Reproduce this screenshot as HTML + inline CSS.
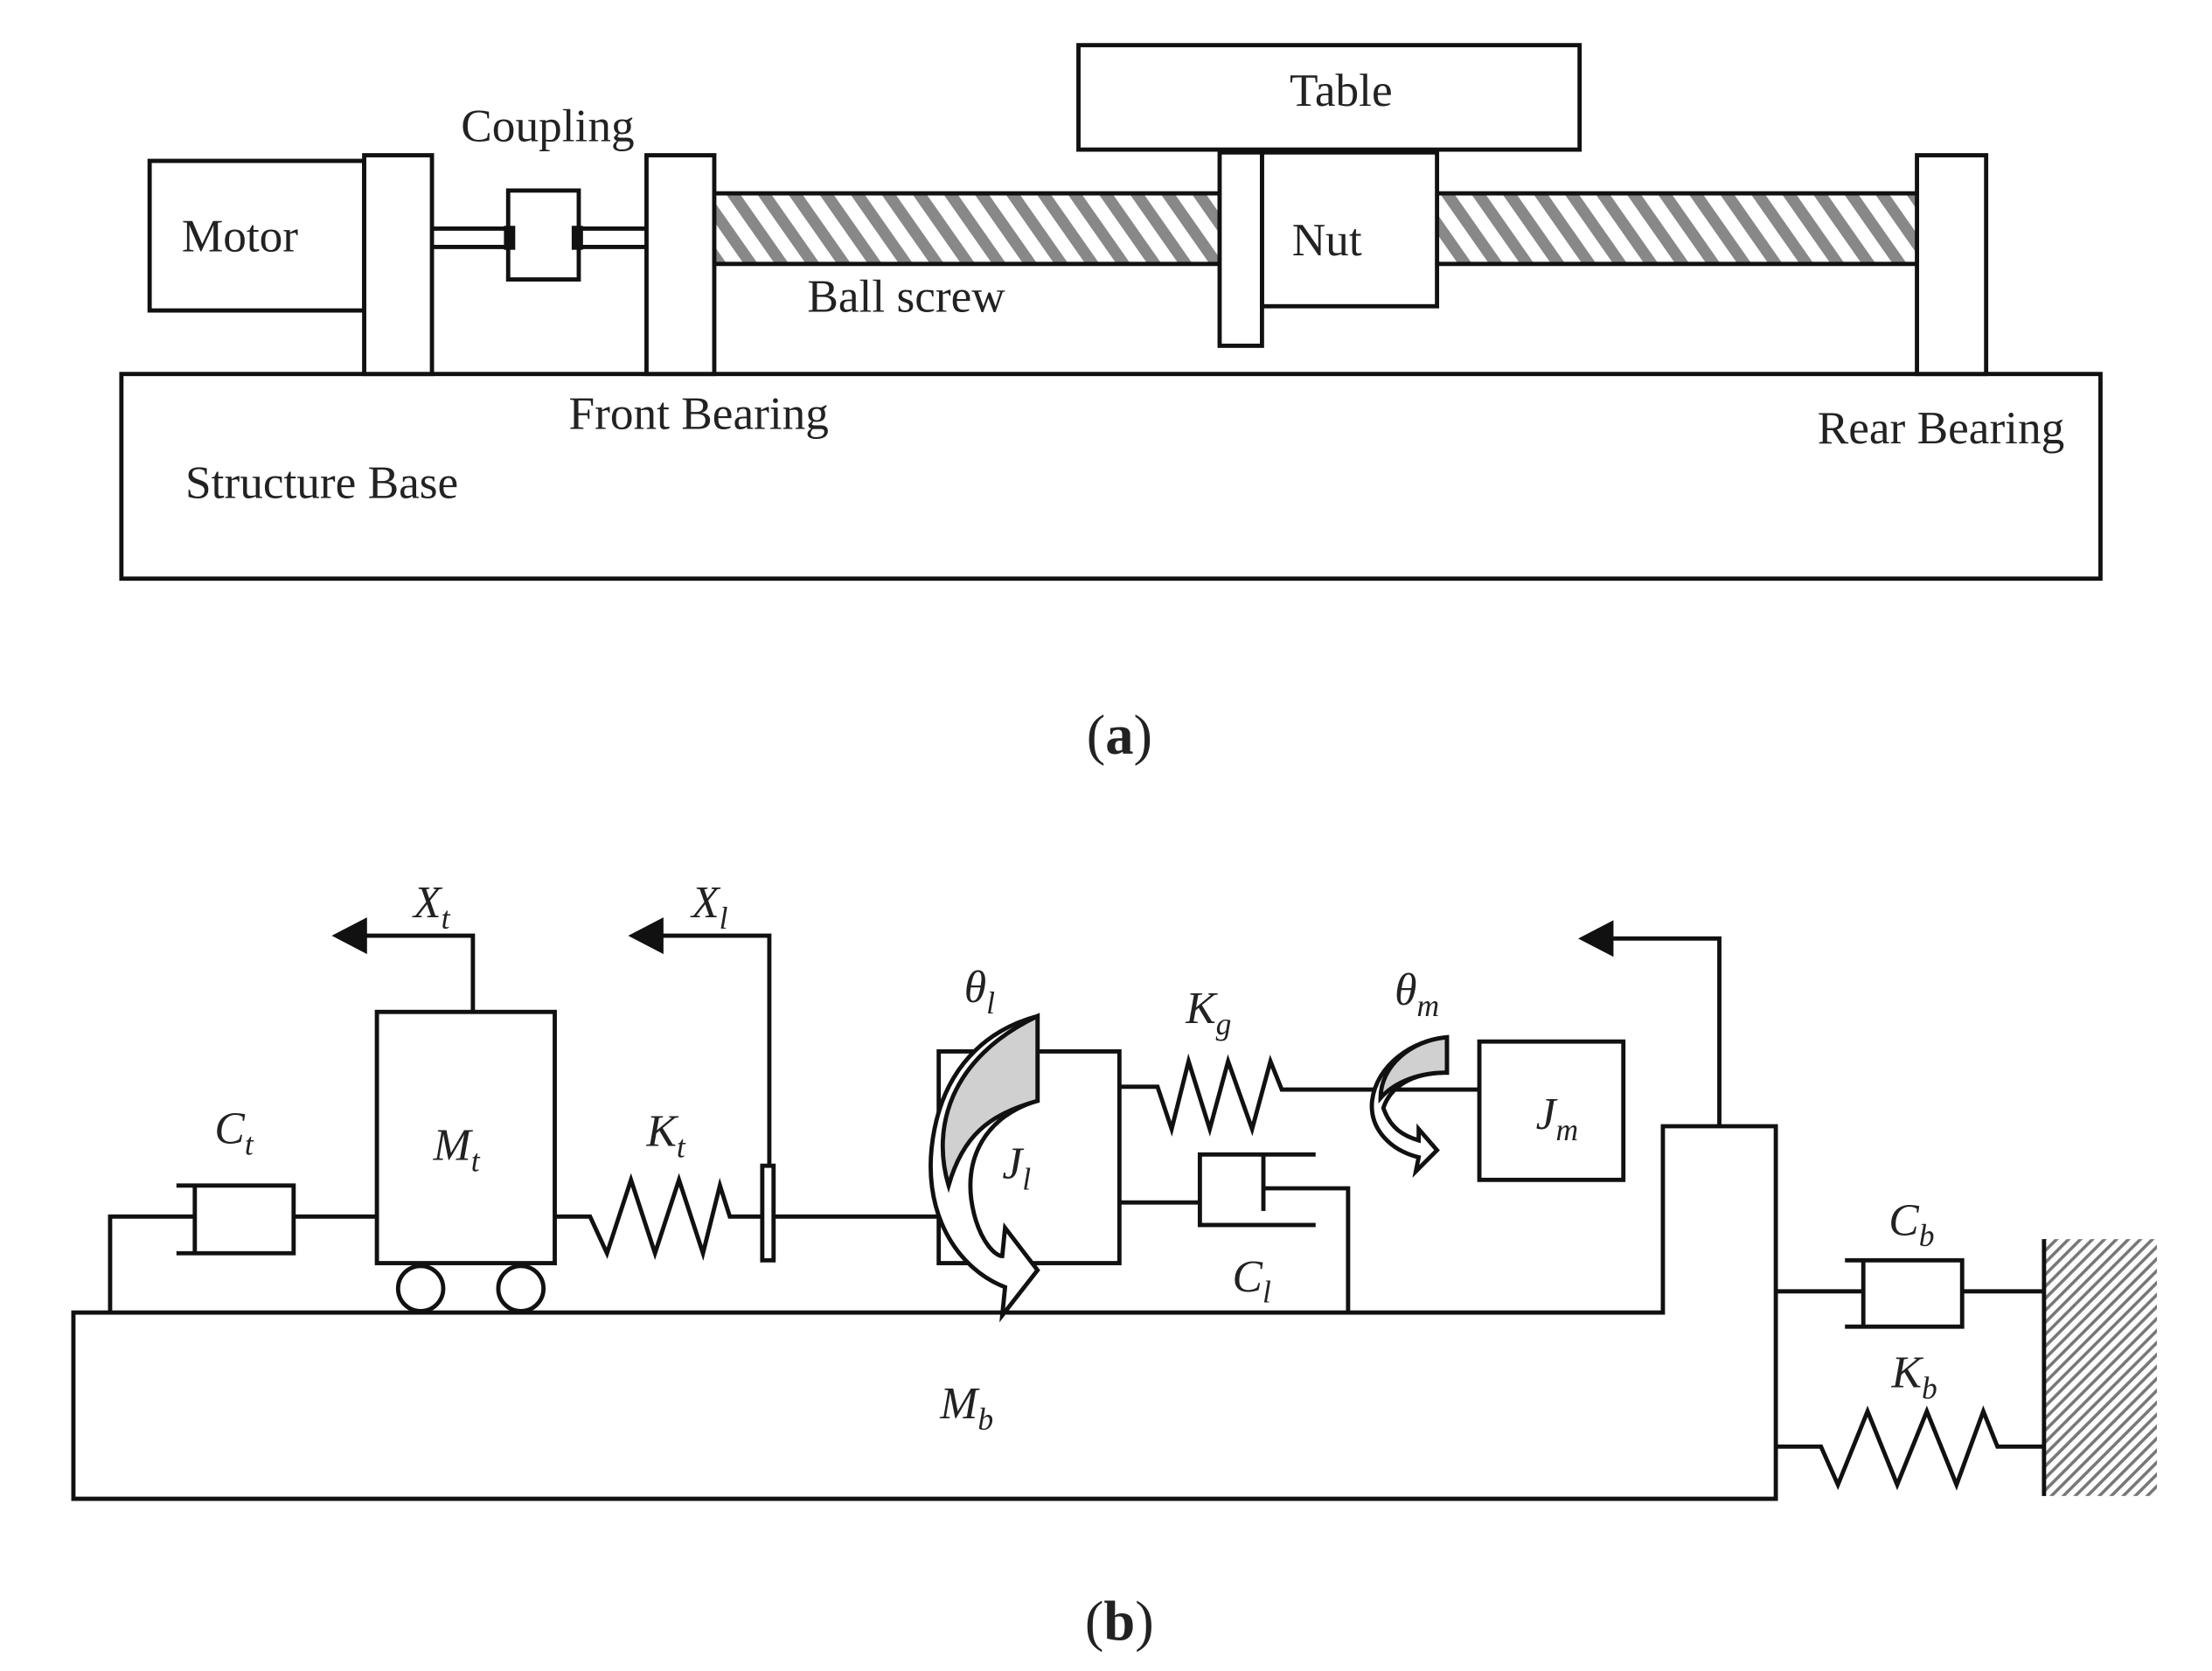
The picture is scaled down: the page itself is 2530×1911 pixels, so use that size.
<!DOCTYPE html>
<html><head><meta charset="utf-8"><style>html,body{margin:0;padding:0;background:#fff}svg{display:block}</style></head>
<body>
<svg width="2530" height="1911" viewBox="0 0 1567 1184" preserveAspectRatio="none" xmlns="http://www.w3.org/2000/svg">
<defs>
<pattern id="h1" patternUnits="userSpaceOnUse" width="22" height="50" patternTransform="skewX(35)">
<rect width="22" height="50" fill="#fff"/><rect width="10" height="50" fill="#888"/></pattern>
<pattern id="h2" patternUnits="userSpaceOnUse" width="6" height="6" patternTransform="rotate(45)">
<rect width="6" height="6" fill="#fff"/><rect width="2.2" height="6" fill="#777"/></pattern>
</defs>
<g fill="none" stroke="#111" stroke-width="3">
<rect x="86" y="265" width="1402" height="145"/>
<rect x="764" y="32" width="355" height="74"/>
<rect x="106" y="114" width="152" height="106"/>
<rect x="258" y="110" width="48" height="155" fill="#fff"/>
<rect x="458" y="110" width="48" height="155" fill="#fff"/>
<rect x="1358" y="110" width="49" height="155" fill="#fff"/>
<line x1="306" y1="162" x2="458" y2="162"/><line x1="306" y1="175" x2="458" y2="175"/>
<rect x="360" y="135" width="50" height="63" fill="#fff"/>
<rect x="506" y="137" width="358" height="50" fill="url(#h1)"/>
<rect x="1018" y="137" width="340" height="50" fill="url(#h1)"/>
<rect x="894" y="108" width="124" height="109" fill="#fff"/>
<rect x="864" y="108" width="30" height="137" fill="#fff"/>
</g>
<rect x="357" y="160" width="8" height="17" fill="#111"/><rect x="405" y="160" width="8" height="17" fill="#111"/>
<g font-family="Liberation Serif, serif" font-size="33" fill="#222" text-anchor="middle">
<text x="950" y="75">Table</text><text x="388" y="100">Coupling</text><text x="170" y="178">Motor</text>
<text x="940" y="181">Nut</text><text x="642" y="221">Ball screw</text><text x="495" y="304">Front Bearing</text>
<text x="1375" y="314">Rear Bearing</text><text x="228" y="353">Structure Base</text>
<text x="793" y="534" font-size="40">(<tspan font-weight="bold">a</tspan>)</text>
<text x="793" y="1162" font-size="40">(<tspan font-weight="bold">b</tspan>)</text>
</g>
<g fill="none" stroke="#111" stroke-width="3">
<path d="M52,930 H1178 V798 H1258 V1062 H52 Z"/>
<path d="M1218,798 V665 H1140"/>
<rect x="267" y="717" width="126" height="178" fill="#fff"/>
<circle cx="298" cy="913" r="16"/><circle cx="369" cy="913" r="16"/>
<path d="M335,717 V663 H255"/>
<path d="M78,930 V862 H138"/>
<path d="M125,840 H208 V888 H125 M138,840 V888"/>
<path d="M208,862 H267"/>
<path d="M393,862 H418 L430,888 L447,836 L464,888 L481,836 L498,888 L510,840 L517,862 H540"/>
<rect x="540" y="826" width="8" height="67" fill="#fff"/>
<path d="M548,862 H665"/>
<path d="M545,826 V663 H465"/>
<rect x="665" y="745" width="128" height="150"/>
<path d="M793,770 H820 L830,800 L842,752 L857,800 L870,752 L887,800 L900,752 L908,772 H1048"/>
<rect x="1048" y="738" width="102" height="98"/>
<path d="M793,852 H850 M932,818 H850 V868 H932 M895,818 V858 M895,842 H955 V930"/>
<path d="M1258,915 H1320 M1307,893 H1390 V940 H1307 M1320,893 V940 M1390,915 H1448"/>
<path d="M1258,1025 H1290 L1302,1052 L1323,1000 L1344,1052 L1365,1000 L1386,1052 L1405,1000 L1415,1025 H1448"/>
</g>
<rect x="1448" y="878" width="80" height="182" fill="url(#h2)"/>
<line x1="1448" y1="878" x2="1448" y2="1060" stroke="#111" stroke-width="3"/>
<g fill="#111"><path d="M235,663 L260,650 L260,676 Z"/><path d="M445,663 L470,650 L470,676 Z"/><path d="M1118,665 L1143,652 L1143,678 Z"/></g>
<path d="M735,720 V780 C700,790 680,820 690,860 C695,880 705,890 710,890 L712,870 L735,900 L710,932 L712,912 C680,900 650,860 662,800 C672,750 705,728 735,720 Z" fill="#fff" stroke="#111" stroke-width="3"/>
<path d="M735,720 V780 C700,790 682,805 672,840 C660,800 672,750 735,720 Z" fill="#d0d0d0" stroke="#111" stroke-width="3"/>
<path d="M1025,735 V760 C1000,760 985,770 980,785 C985,800 995,805 1005,808 L1005,800 L1018,815 L1003,830 L1005,820 C985,815 970,800 972,780 C975,755 1000,737 1025,735 Z" fill="#fff" stroke="#111" stroke-width="3"/>
<path d="M1025,735 V760 C1000,760 985,770 978,778 C978,755 1000,737 1025,735 Z" fill="#d0d0d0" stroke="#111" stroke-width="3"/>
<g font-family="Liberation Serif, serif" font-style="italic" font-size="32" fill="#222">
<text x="293" y="650">X<tspan font-size="22" dy="8">t</tspan></text>
<text x="490" y="650">X<tspan font-size="22" dy="8">l</tspan></text>
<text x="152" y="810">C<tspan font-size="22" dy="8">t</tspan></text>
<text x="307" y="822">M<tspan font-size="22" dy="8">t</tspan></text>
<text x="458" y="812">K<tspan font-size="22" dy="8">t</tspan></text>
<text x="683" y="710">θ<tspan font-size="22" dy="8">l</tspan></text>
<text x="710" y="835">J<tspan font-size="22" dy="8">l</tspan></text>
<text x="840" y="725">K<tspan font-size="22" dy="8">g</tspan></text>
<text x="988" y="712">θ<tspan font-size="22" dy="8">m</tspan></text>
<text x="1088" y="800">J<tspan font-size="22" dy="8">m</tspan></text>
<text x="873" y="915">C<tspan font-size="22" dy="8">l</tspan></text>
<text x="1338" y="875">C<tspan font-size="22" dy="8">b</tspan></text>
<text x="1340" y="983">K<tspan font-size="22" dy="8">b</tspan></text>
<text x="666" y="1005">M<tspan font-size="22" dy="8">b</tspan></text>
</g>
</svg>
</body></html>
